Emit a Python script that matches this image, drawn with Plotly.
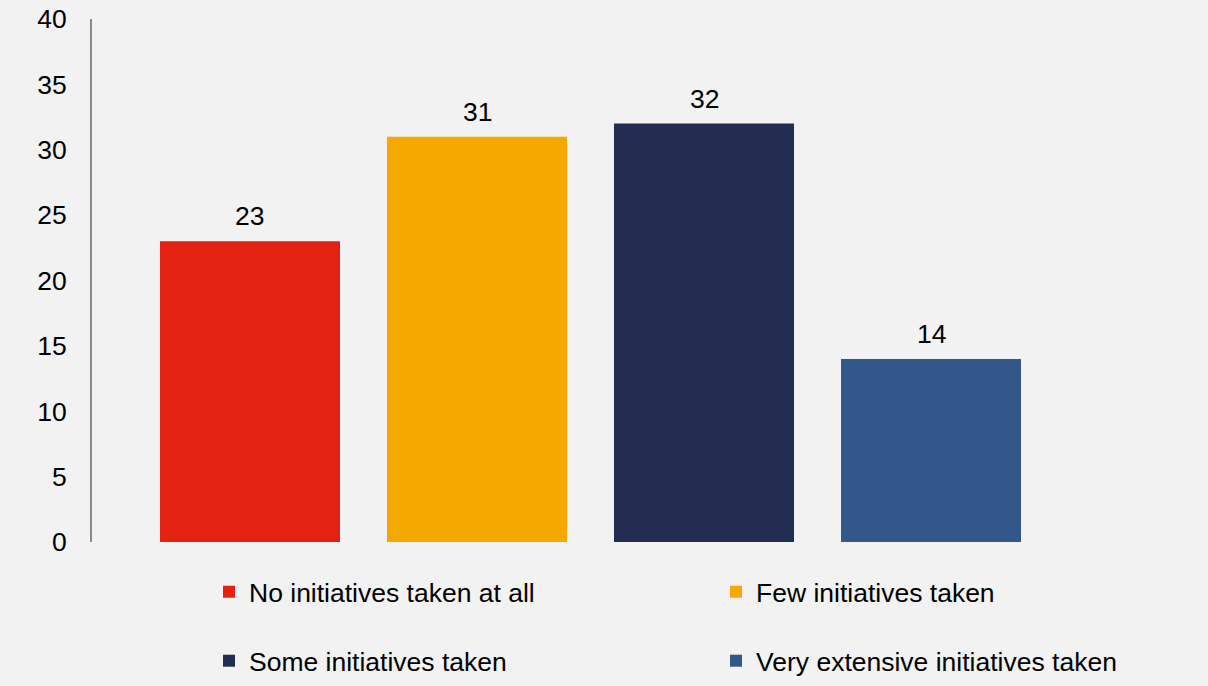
import plotly.graph_objects as go

series_names = ["No initiatives taken at all", "Few initiatives taken",
                "Some initiatives taken", "Very extensive initiatives taken"]
values = [23, 31, 32, 14]
colors = ["#E32213", "#F5A800", "#232D52", "#32578A"]

FONT = "Liberation Sans, Arial, sans-serif"
FS = 26.5
W, H = 1208, 686
ml, mr, mt, mb = 92, 119, 19, 144
pw = W - ml - mr
ph = H - mt - mb

# legend placement (pixels): 2 columns x 2 rows
leg_x_px = [209, 716, 209, 716]
leg_y_px = [592, 592, 661, 661]

fig = go.Figure()
legend_layouts = {}
for i, (name, v, c) in enumerate(zip(series_names, values, colors)):
    lg = "legend" if i == 0 else f"legend{i + 1}"
    fig.add_trace(go.Bar(
        x=[i], y=[v], name=name, marker=dict(color=c, line=dict(width=0)),
        width=0.793, legend=lg, hoverinfo="name+y",
    ))
    fig.add_annotation(x=i, y=v, text=str(v), showarrow=False,
                       yanchor="middle", yshift=25,
                       font=dict(size=FS, color="#000000", family=FONT))
    legend_layouts[lg] = dict(
        orientation="h", xanchor="left", yanchor="middle",
        x=(leg_x_px[i] - ml) / pw, y=-(leg_y_px[i] - (H - mb)) / ph,
        font=dict(size=FS, color="#000000", family=FONT),
        bgcolor="rgba(0,0,0,0)",
    )

fig.update_layout(
    width=W, height=H,
    margin=dict(l=ml, r=mr, t=mt, b=mb, autoexpand=False),
    paper_bgcolor="#F2F2F2", plot_bgcolor="#F2F2F2",
    font=dict(family=FONT, size=FS, color="#000000"),
    barmode="overlay",
    showlegend=True,
    xaxis=dict(range=[-0.696, 3.696], showticklabels=False, showgrid=False,
               zeroline=False, showline=False, ticks=""),
    yaxis=dict(range=[0, 40], dtick=5, tick0=0, showgrid=False, zeroline=False,
               showline=True, linecolor="#898989", linewidth=2, ticks="",
               ticklabelstandoff=18,
               tickfont=dict(size=FS, color="#000000", family=FONT)),
    **legend_layouts,
)

fig.write_html("out.html", config={"displayModeBar": False},
               post_script="document.body.style.margin='0';document.body.style.overflow='hidden';")
